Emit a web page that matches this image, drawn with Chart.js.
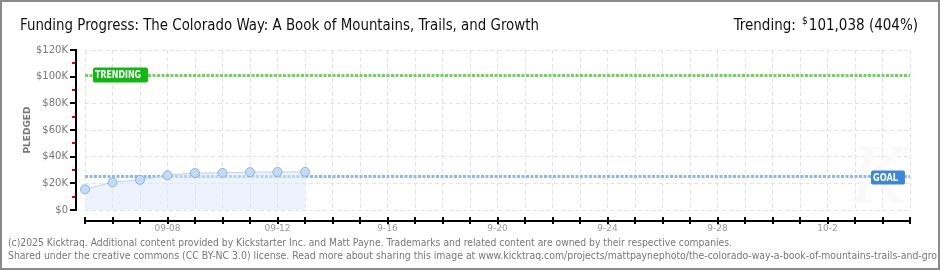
<!DOCTYPE html>
<html>
<head>
<meta charset="utf-8">
<script src="https://cdn.jsdelivr.net/npm/chart.js@4.4.1/dist/chart.umd.min.js"></script>
<style>
  body { margin: 0; background: #fff; }
  #wrap { width: 940px; height: 270px; position: relative; }
</style>
</head>
<body>
<div id="wrap"><canvas id="chart" width="940" height="270"></canvas></div>
<script>
// chart data
const days = [
  "09-05", "09-06", "09-07", "09-08", "09-09", "09-10", "09-11", "09-12",
  "09-13", "09-14", "09-15", "09-16", "09-17", "09-18", "09-19", "09-20",
  "09-21", "09-22", "09-23", "09-24", "09-25", "09-26", "09-27", "09-28",
  "09-29", "09-30", "10-01", "10-02", "10-03", "10-04", "10-05"
];
const pledged = [15500, 20700, 22600, 26000, 27700, 27800, 28400, 28500, 28600];
const xTickLabels = {
  "09-08": "09-08", "09-12": "09-12", "09-16": "9-16", "09-20": "9-20",
  "09-24": "9-24", "09-28": "9-28", "10-02": "10-2"
};
const yTicks = [0, 20000, 40000, 60000, 80000, 100000, 120000];
const yTickLabels = ["$0", "$20K", "$40K", "$60K", "$80K", "$100K", "$120K"];
const yMinorTicks = [10000, 30000, 50000, 70000, 90000, 110000];
const goal = 25000;
const trending = 101038;

const titleText = "Funding Progress: The Colorado Way: A Book of Mountains, Trails, and Growth";
const trendText = "101,038 (404%)";
const footer1 = "(c)2025 Kicktraq. Additional content provided by Kickstarter Inc. and Matt Payne. Trademarks and related content are owned by their respective companies.";
const footer2 = "Shared under the creative commons (CC BY-NC 3.0) license. Read more about sharing this image at www.kicktraq.com/projects/mattpaynephoto/the-colorado-way-a-book-of-mountains-trails-and-growth/";
const footer2Visible = "Shared under the creative commons (CC BY-NC 3.0) license. Read more about sharing this image at www.kicktraq.com/projects/mattpaynephoto/the-colorado-way-a-book-of-mountains-trails-and-gro";

const smallFont = "DejaVu Sans";
const headFont = "'Liberation Sans Narrow', 'DejaVu Sans Condensed', sans-serif";

// draw text squeezed to a given width
function fitText(ctx, text, x, y, width, ref) {
  const w = ctx.measureText(ref || text).width;
  ctx.save();
  ctx.translate(x, y);
  ctx.scale(width / w, 1);
  ctx.fillText(text, 0, 0);
  ctx.restore();
}

function labelBox(ctx, text, x, y, w, h, bg) {
  ctx.fillStyle = bg;
  ctx.beginPath();
  ctx.roundRect(x, y, w, h, 2);
  ctx.fill();
  ctx.fillStyle = "#fff";
  ctx.font = "bold 10px " + smallFont;
  ctx.textAlign = "left";
  ctx.textBaseline = "middle";
  fitText(ctx, text, x + 2, y + h / 2 + 0.5, w - 9);
}

const decor = {
  id: "decor",
  beforeDatasetsDraw(chart) {
    const { ctx, chartArea: a, scales: { y } } = chart;
    ctx.save();

    // faint watermark
    ctx.fillStyle = "#f9f9f9";
    ctx.font = "italic 84px serif";
    ctx.textAlign = "center";
    ctx.textBaseline = "alphabetic";
    ctx.fillText("K", 878, 203);

    ctx.lineWidth = 3;
    ctx.setLineDash([3, 1.5]);

    // trending line + tag
    const ty = Math.round(y.getPixelForValue(trending)) + 0.5;
    ctx.strokeStyle = "#6fd35c";
    ctx.beginPath();
    ctx.moveTo(a.left, ty);
    ctx.lineTo(a.right, ty);
    ctx.stroke();

    // goal line + tag
    const gy = Math.round(y.getPixelForValue(goal)) - 0.5;
    ctx.strokeStyle = "#93b7e3";
    ctx.beginPath();
    ctx.moveTo(a.left, gy);
    ctx.lineTo(a.right, gy);
    ctx.stroke();
    ctx.setLineDash([]);

    labelBox(ctx, "TRENDING", 93, ty - 8, 55, 15, "#15b515");
    labelBox(ctx, "GOAL", 871, gy - 6, 34, 14, "#3d87d6");
    ctx.restore();
  },
  afterDraw(chart) {
    const { ctx, chartArea: a, scales: { x, y } } = chart;
    ctx.save();

    // y axis, drawn apart from the plot area
    ctx.strokeStyle = "#000";
    ctx.lineWidth = 2;
    ctx.beginPath();
    ctx.moveTo(76, a.top);
    ctx.lineTo(76, a.bottom + 1);
    ctx.stroke();
    yTicks.forEach(v => {
      const py = Math.round(y.getPixelForValue(v));
      ctx.beginPath();
      ctx.moveTo(70, py);
      ctx.lineTo(77, py);
      ctx.stroke();
    });
    ctx.strokeStyle = "#e00";
    yMinorTicks.forEach(v => {
      const py = Math.round(y.getPixelForValue(v));
      ctx.beginPath();
      ctx.moveTo(72, py);
      ctx.lineTo(75, py);
      ctx.stroke();
    });

    // x axis
    ctx.strokeStyle = "#000";
    ctx.beginPath();
    ctx.moveTo(a.left, 221);
    ctx.lineTo(a.right + 1, 221);
    ctx.stroke();
    days.forEach((d, i) => {
      const px = Math.round(x.getPixelForValue(i));
      ctx.beginPath();
      ctx.moveTo(px, 217);
      ctx.lineTo(px, 224);
      ctx.stroke();
    });

    // axis title
    ctx.save();
    ctx.translate(28, 130);
    ctx.rotate(-Math.PI / 2);
    ctx.fillStyle = "#777";
    ctx.font = "bold 9px " + smallFont;
    ctx.textAlign = "center";
    ctx.textBaseline = "middle";
    ctx.fillText("PLEDGED", 0, 0);
    ctx.restore();

    // header
    ctx.fillStyle = "#111";
    ctx.font = "15px " + headFont;
    ctx.textAlign = "left";
    ctx.textBaseline = "alphabetic";
    fitText(ctx, titleText, 20, 30, 519);

    ctx.textAlign = "right";
    ctx.fillText(trendText, 918, 30);
    const tw = ctx.measureText(trendText).width;
    ctx.font = "10px " + headFont;
    ctx.fillText("$", 918 - tw - 1, 24);
    ctx.font = "15px " + headFont;
    ctx.fillText("Trending:", 918 - tw - 13, 30);

    // footer
    ctx.fillStyle = "#777";
    ctx.font = "10px " + smallFont;
    ctx.textAlign = "left";
    fitText(ctx, footer1, 8, 246, 724);
    ctx.save();
    ctx.beginPath();
    ctx.rect(0, 0, 937, 270);
    ctx.clip();
    fitText(ctx, footer2, 8, 259, 929, footer2Visible);
    ctx.restore();

    // frame
    ctx.strokeStyle = "#8a8a8a";
    ctx.lineWidth = 2;
    ctx.strokeRect(1, 1, 938, 268);
    ctx.restore();
  }
};

new Chart(document.getElementById("chart"), {
  type: "line",
  data: {
    labels: days,
    datasets: [{
      data: pledged,
      borderColor: "#b7d2f0",
      borderWidth: 1,
      backgroundColor: "rgba(220, 233, 250, 0.55)",
      fill: "origin",
      tension: 0.3,
      pointRadius: 4.5,
      pointBackgroundColor: "#c4dbf5",
      pointBorderColor: "#8fb1db",
      pointBorderWidth: 1
    }]
  },
  options: {
    responsive: false,
    animation: false,
    layout: { padding: { top: 50, right: 30, left: 0, bottom: 0 } },
    plugins: { legend: { display: false }, tooltip: { enabled: false } },
    scales: {
      x: {
        offset: false,
        grid: { color: "#e2e2e2", drawTicks: false },
        border: { display: false, dash: [4, 3] },
        ticks: {
          autoSkip: false,
          maxRotation: 0,
          padding: 13,
          color: "#999",
          font: { family: smallFont, size: 9 },
          callback: (v, i) => xTickLabels[days[i]] || ""
        },
        afterFit: s => { s.height = 60; }
      },
      y: {
        min: 0,
        max: 120000,
        afterBuildTicks: s => { s.ticks = yTicks.map(v => ({ value: v })); },
        grid: { color: "#e2e2e2", drawTicks: false },
        border: { display: false, dash: [4, 3] },
        ticks: {
          padding: 17,
          color: "#777",
          font: { family: smallFont, size: 10 },
          callback: v => yTickLabels[yTicks.indexOf(v)]
        },
        afterFit: s => { s.width = 85; }
      }
    }
  },
  plugins: [decor]
});
</script>
</body>
</html>
